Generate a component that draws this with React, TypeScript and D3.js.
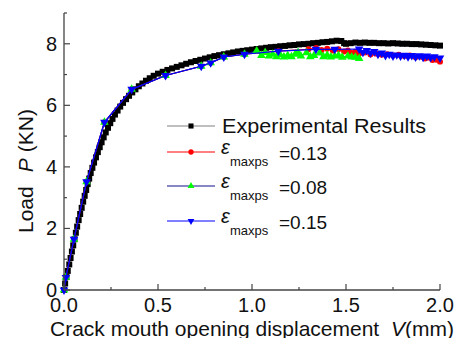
import * as d3 from 'd3';

// axis ticks
const xMajor = [0, 0.5, 1.0, 1.5, 2.0];
const xMinor = [0.25, 0.75, 1.25, 1.75];
const yMajor = [0, 2, 4, 6, 8];
const yMinor = [1, 3, 5, 7, 9];

// Experimental results (V mm, P kN)
const expData: [number, number][] = [
  [0, 0], [0.006, 0.21], [0.013, 0.42], [0.02, 0.62], [0.028, 0.83], [0.035, 1.04],
  [0.042, 1.25], [0.049, 1.45], [0.056, 1.65], [0.063, 1.86], [0.07, 2.06], [0.078, 2.27],
  [0.086, 2.47], [0.094, 2.67], [0.102, 2.87], [0.11, 3.06], [0.118, 3.25], [0.126, 3.44],
  [0.134, 3.62], [0.142, 3.8], [0.151, 3.97], [0.16, 4.14], [0.17, 4.31], [0.18, 4.48],
  [0.19, 4.64], [0.2, 4.8], [0.211, 4.96], [0.222, 5.12], [0.234, 5.27], [0.246, 5.42],
  [0.258, 5.56], [0.271, 5.7], [0.285, 5.83], [0.299, 5.96], [0.314, 6.08], [0.33, 6.2],
  [0.346, 6.31], [0.363, 6.42], [0.38, 6.52], [0.398, 6.62], [0.417, 6.71], [0.436, 6.8],
  [0.456, 6.88], [0.477, 6.96], [0.5, 7.03], [0.525, 7.09], [0.55, 7.15], [0.575, 7.2],
  [0.6, 7.25], [0.625, 7.3], [0.65, 7.35], [0.675, 7.4], [0.7, 7.44], [0.725, 7.48],
  [0.75, 7.52], [0.775, 7.56], [0.8, 7.6], [0.825, 7.63], [0.85, 7.66], [0.875, 7.69],
  [0.9, 7.72], [0.925, 7.75], [0.95, 7.77], [0.975, 7.79], [1.0, 7.81], [1.025, 7.83],
  [1.05, 7.85], [1.075, 7.87], [1.1, 7.89], [1.125, 7.9], [1.15, 7.92], [1.175, 7.93],
  [1.2, 7.95], [1.225, 7.96], [1.25, 7.98], [1.275, 7.99], [1.3, 8.0], [1.325, 8.02],
  [1.35, 8.03], [1.375, 8.05], [1.4, 8.06], [1.425, 8.08], [1.45, 8.1], [1.475, 8.09],
  [1.49, 8.02], [1.5, 8.0], [1.525, 8.02], [1.55, 8.04], [1.575, 8.03], [1.6, 8.04],
  [1.625, 8.03], [1.65, 8.03], [1.675, 8.02], [1.7, 8.02], [1.725, 8.01], [1.75, 8.02],
  [1.775, 8.01], [1.8, 8.0], [1.825, 8.0], [1.85, 7.99], [1.875, 7.99], [1.9, 7.98],
  [1.925, 7.97], [1.95, 7.96], [1.975, 7.95], [2.0, 7.94],
];

// eps_maxps = 0.13
const sim13: [number, number][] = [
  [0, 0], [0.01, 0.41], [0.053, 1.65], [0.12, 3.52], [0.215, 5.45], [0.36, 6.52],
  [0.54, 6.97], [0.73, 7.27], [0.78, 7.38], [0.85, 7.57], [0.96, 7.66], [1.14, 7.76],
  [1.3, 7.82], [1.34, 7.86], [1.37, 7.8], [1.4, 7.84], [1.43, 7.78], [1.46, 7.82],
  [1.49, 7.75], [1.51, 7.78], [1.53, 7.7], [1.55, 7.74], [1.57, 7.68], [1.6, 7.72],
  [1.63, 7.65], [1.66, 7.68], [1.69, 7.64], [1.72, 7.66], [1.75, 7.62], [1.78, 7.64],
  [1.81, 7.6], [1.84, 7.62], [1.87, 7.56], [1.9, 7.58], [1.92, 7.52], [1.94, 7.55],
  [1.96, 7.47], [1.98, 7.48], [2.0, 7.42],
];

// eps_maxps = 0.08
const sim08: [number, number][] = [
  [0, 0], [0.01, 0.41], [0.053, 1.65], [0.12, 3.52], [0.215, 5.45], [0.36, 6.52],
  [0.54, 6.97], [0.73, 7.27], [0.78, 7.38], [0.85, 7.57], [0.96, 7.66], [1.025, 7.77],
  [1.05, 7.62], [1.07, 7.72], [1.09, 7.6], [1.11, 7.66], [1.13, 7.58], [1.15, 7.64],
  [1.17, 7.57], [1.19, 7.62], [1.21, 7.58], [1.23, 7.66], [1.245, 7.72], [1.26, 7.6],
  [1.29, 7.71], [1.31, 7.58], [1.33, 7.62], [1.36, 7.7], [1.38, 7.58], [1.4, 7.63],
  [1.42, 7.57], [1.44, 7.6], [1.46, 7.62], [1.48, 7.56], [1.51, 7.6], [1.53, 7.57],
  [1.55, 7.56], [1.57, 7.52],
];

// eps_maxps = 0.15
const sim15: [number, number][] = [
  [0, 0], [0.01, 0.41], [0.053, 1.65], [0.12, 3.52], [0.215, 5.45], [0.36, 6.52],
  [0.54, 6.97], [0.73, 7.27], [0.78, 7.38], [0.85, 7.57], [0.96, 7.66], [1.14, 7.76],
  [1.34, 7.82], [1.44, 7.82], [1.57, 7.83], [1.59, 7.72], [1.61, 7.78], [1.63, 7.7],
  [1.65, 7.75], [1.67, 7.66], [1.69, 7.7], [1.71, 7.62], [1.73, 7.66], [1.75, 7.6],
  [1.77, 7.64], [1.79, 7.6], [1.81, 7.63], [1.83, 7.58], [1.85, 7.62], [1.87, 7.57],
  [1.89, 7.61], [1.91, 7.56], [1.93, 7.6], [1.95, 7.55], [1.97, 7.58], [2.0, 7.54],
];

const FONT = '"Liberation Sans", Arial, sans-serif';

export default function App() {
  const width = 465;
  const height = 338;

  const x = d3.scaleLinear().domain([0, 2]).range([64, 440]);
  const y = d3.scaleLinear().domain([0, 9]).range([290, 13]);
  const line = d3.line<[number, number]>().x(d => x(d[0])).y(d => y(d[1]));

  const series = [
    { key: 'exp', data: expData, stroke: '#808080', fill: '#000', type: d3.symbolSquare, size: 36, lsize: 26, rot: 0 },
    { key: '013', data: sim13, stroke: '#ff0000', fill: '#ff0000', type: d3.symbolCircle, size: 28, lsize: 22, rot: 0 },
    { key: '008', data: sim08, stroke: '#10108c', fill: '#00ff00', type: d3.symbolTriangle, size: 32, lsize: 20, rot: 0 },
    { key: '015', data: sim15, stroke: '#0000ff', fill: '#0000ff', type: d3.symbolTriangle, size: 32, lsize: 20, rot: 180 },
  ];

  const legendRows = [126, 152, 186, 221];
  const epsLabels = ['=0.13', '=0.08', '=0.15'];
  const axisColor = '#444';

  return (
    <svg width={width} height={height} style={{ position: 'absolute', left: 0, top: 0 }} fontFamily={FONT}>
      <rect width={width} height={height} fill="#fff" />

      {/* data */}
      {series.map(s => {
        const sym = d3.symbol().type(s.type).size(s.size)()!;
        return (
          <g key={s.key}>
            <path d={line(s.data)!} fill="none" stroke={s.stroke} strokeWidth={1.2} />
            {s.data.map((d, i) => (
              <path key={i} d={sym} fill={s.fill}
                transform={`translate(${x(d[0])},${y(d[1])}) rotate(${s.rot})`} />
            ))}
          </g>
        );
      })}

      {/* axes */}
      <line x1={x(0)} x2={x(2)} y1={y(0)} y2={y(0)} stroke={axisColor} strokeWidth={1.3} />
      <line x1={x(0)} x2={x(0)} y1={y(0)} y2={y(9)} stroke={axisColor} strokeWidth={1.3} />
      {xMajor.map(t => (
        <g key={'xm' + t}>
          <line x1={x(t)} x2={x(t)} y1={y(0)} y2={y(0) - 6} stroke={axisColor} strokeWidth={1.2} />
          <text x={x(t)} y={312} fontSize={20} textAnchor="middle" fill="#111">{t.toFixed(1)}</text>
        </g>
      ))}
      {xMinor.map(t => (
        <line key={'xn' + t} x1={x(t)} x2={x(t)} y1={y(0)} y2={y(0) - 3} stroke={axisColor} strokeWidth={1.2} />
      ))}
      {yMajor.map(t => (
        <g key={'ym' + t}>
          <line x1={x(0)} x2={x(0) + 6} y1={y(t)} y2={y(t)} stroke={axisColor} strokeWidth={1.2} />
          <text x={57} y={y(t) + 7} fontSize={20} textAnchor="end" fill="#111">{t}</text>
        </g>
      ))}
      {yMinor.map(t => (
        <line key={'yn' + t} x1={x(0)} x2={x(0) + 3} y1={y(t)} y2={y(t)} stroke={axisColor} strokeWidth={1.2} />
      ))}

      {/* axis titles */}
      <text y={336} fontSize={21} fill="#111">
        <tspan x={50}>Crack mouth opening displacement</tspan>
        <tspan x={391} fontStyle="italic">V</tspan>
        <tspan>(mm)</tspan>
      </text>
      <text transform="translate(33,233) rotate(-90)" fontSize={21} fill="#111">
        <tspan>Load</tspan>
        <tspan dx={14} fontStyle="italic">P</tspan>
        <tspan dx={6}>(KN)</tspan>
      </text>

      {/* legend */}
      {series.map((s, i) => {
        const ly = legendRows[i];
        const sym = d3.symbol().type(s.type).size(s.lsize)()!;
        return (
          <g key={'lg' + s.key}>
            <line x1={167} x2={215} y1={ly} y2={ly} stroke={s.stroke} strokeWidth={1.2} />
            <path d={sym} fill={s.fill} transform={`translate(191,${ly}) rotate(${s.rot})`} />
            {i === 0 ? (
              <text x={222} y={ly + 7} fontSize={20} textLength={204} lengthAdjust="spacingAndGlyphs" fill="#111">
                Experimental Results
              </text>
            ) : (
              <g fill="#111">
                <text x={221} y={ly + 2} fontSize={20} fontStyle="italic">ε</text>
                <text x={230} y={ly + 14} fontSize={13}>maxps</text>
                <text x={279} y={ly + 8} fontSize={19}>{epsLabels[i - 1]}</text>
              </g>
            )}
          </g>
        );
      })}
    </svg>
  );
}
